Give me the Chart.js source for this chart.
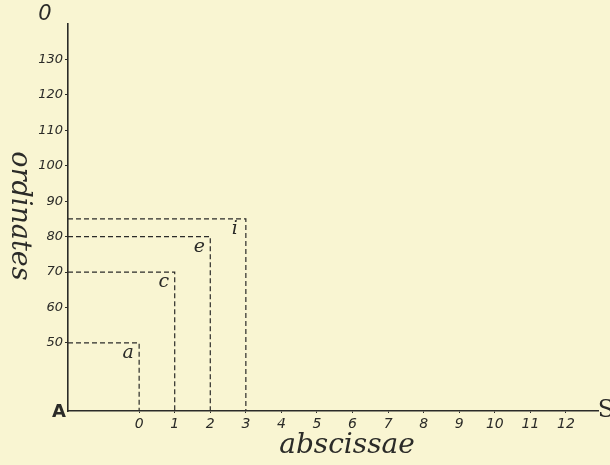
<!DOCTYPE html>
<html>
<head>
<meta charset="utf-8">
<script src="https://cdn.jsdelivr.net/npm/chart.js@4/dist/chart.umd.min.js"></script>
<style>
  html, body { margin: 0; padding: 0; background: #f9f5d2; }
  canvas { display: block; }
</style>
</head>
<body>
<canvas id="graph" width="610" height="465"></canvas>
<script>
// Ticks on the two axes
const xTicks = [0, 1, 2, 3, 4, 5, 6, 7, 8, 9, 10, 11, 12];
const yTicks = [50, 60, 70, 80, 90, 100, 110, 120, 130];

// The four points and their names
const pointNames = ['a', 'c', 'e', 'i'];
const pointX = [0, 1, 2, 3];
const pointY = [50, 70, 80, 85];

// Range of the axes (A is the corner, O the top, S the right end)
const xMin = -2, xMax = 12.9;
const yMin = 30.8, yMax = 140;

const ink = '#2b2b28';

// one dashed dataset per point: from the y axis to the point, then down to the x axis
const dashedSets = pointNames.map(function (name, i) {
    return {
        label: name,
        data: [
            { x: xMin, y: pointY[i] },
            { x: pointX[i], y: pointY[i] },
            { x: pointX[i], y: yMin }
        ],
        showLine: true,
        borderColor: ink,
        borderWidth: 1.2,
        borderDash: [5, 3],
        pointRadius: 0,
        fill: false
    };
});

// text that sits outside of what the axes give: letters, axis names
const labelsPlugin = {
    id: 'labelsPlugin',
    beforeDraw: function (chart) {
        const ctx = chart.ctx;
        ctx.save();
        ctx.fillStyle = '#f9f5d2';
        ctx.fillRect(0, 0, chart.width, chart.height);
        ctx.restore();
    },
    afterDraw: function (chart) {
        const ctx = chart.ctx;
        const xs = chart.scales.x, ys = chart.scales.y;
        ctx.save();
        ctx.fillStyle = ink;

        // point letters, a little to the lower left of each corner
        ctx.font = 'italic 19px "DejaVu Serif"';
        ctx.textAlign = 'center';
        ctx.textBaseline = 'middle';
        pointNames.forEach(function (name, i) {
            const px = xs.getPixelForValue(pointX[i]);
            const py = ys.getPixelForValue(pointY[i]);
            ctx.fillText(name, px - 11, py + 10);
        });

        // corner letters
        ctx.font = 'italic 21px "DejaVu Sans"';
        ctx.fillText('0', xs.left - 23, ys.top - 9);
        ctx.font = 'bold 18px "DejaVu Sans"';
        ctx.fillText('A', xs.left - 9, ys.bottom + 1);
        ctx.font = '24px "DejaVu Serif"';
        ctx.fillText('S', xs.right + 8, ys.bottom);

        // axis names
        ctx.font = 'italic 28px "DejaVu Serif"';
        ctx.fillText('abscissae', 347, 446);
        ctx.font = 'italic 27px "DejaVu Serif"';
        ctx.translate(19, 216);
        ctx.rotate(Math.PI / 2);
        ctx.fillText('ordinates', 0, 0);
        ctx.restore();
    }
};

window.onload = function () {
    const ctx = document.getElementById('graph').getContext('2d');
    new Chart(ctx, {
        type: 'scatter',
        data: { datasets: dashedSets },
        options: {
            responsive: false,
            animation: false,
            layout: { padding: { left: 0, top: 24, right: 12, bottom: 0 } },
            plugins: {
                legend: { display: false },
                tooltip: { enabled: false }
            },
            scales: {
                x: {
                    type: 'linear',
                    min: xMin,
                    max: xMax,
                    afterBuildTicks: function (scale) {
                        scale.ticks = xTicks.map(function (v) { return { value: v }; });
                    },
                    afterFit: function (scale) { scale.height = 54; },
                    grid: { drawOnChartArea: false, drawTicks: true, tickLength: 2, color: ink },
                    border: { display: true, color: ink, width: 1.6 },
                    ticks: {
                        color: ink,
                        padding: 3,
                        maxRotation: 0,
                        font: { family: 'DejaVu Sans', style: 'italic', size: 14 }
                    }
                },
                y: {
                    type: 'linear',
                    min: yMin,
                    max: yMax,
                    afterBuildTicks: function (scale) {
                        scale.ticks = yTicks.map(function (v) { return { value: v }; });
                    },
                    afterFit: function (scale) { scale.width = 68; },
                    grid: { drawOnChartArea: false, drawTicks: true, tickLength: 3, color: ink },
                    border: { display: true, color: ink, width: 1.6 },
                    ticks: {
                        color: ink,
                        padding: 2,
                        font: { family: 'DejaVu Sans', style: 'italic', size: 13 }
                    }
                }
            }
        },
        plugins: [labelsPlugin]
    });
};
</script>
</body>
</html>
